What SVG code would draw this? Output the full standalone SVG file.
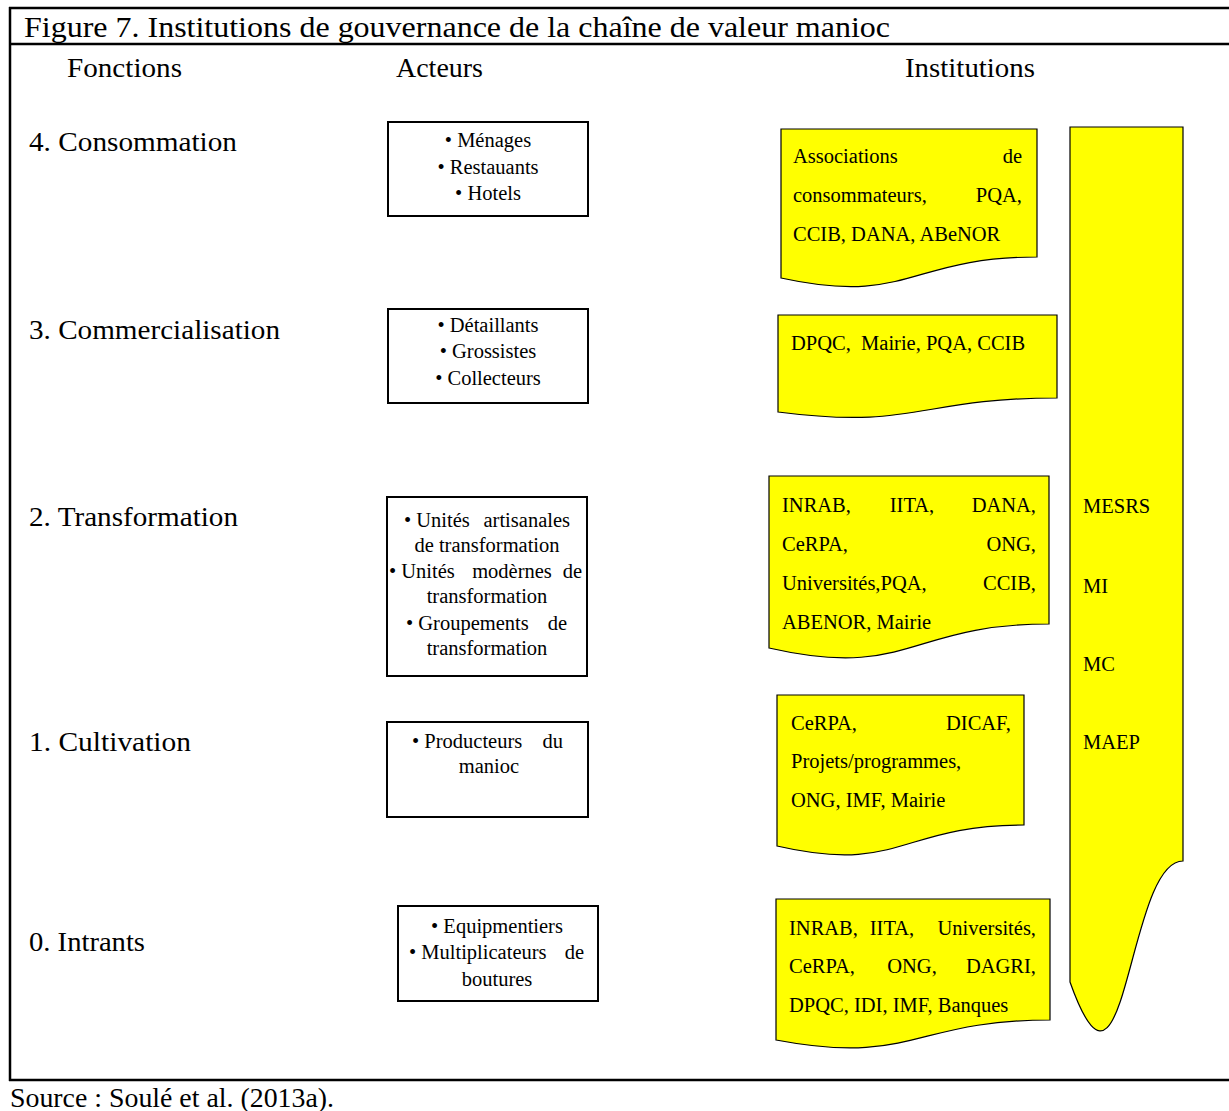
<svg xmlns="http://www.w3.org/2000/svg" width="1229" height="1111" viewBox="0 0 1229 1111">
<style>
.frame{stroke:#000;stroke-width:2.5;fill:none}
.hd{font-family:"Liberation Serif","Times New Roman",serif;font-size:28px;fill:#000}
.ti{font-family:"Liberation Serif","Times New Roman",serif;font-size:30px;fill:#000}
.fn{font-family:"Liberation Serif","Times New Roman",serif;font-size:27px;fill:#000}
.act{fill:#fff;stroke:#000;stroke-width:2}
.at{font-family:"Liberation Serif","Times New Roman",serif;font-size:20.5px;fill:#000}
.doc{fill:#ffff00;stroke:#000;stroke-width:1.2}
.it{font-family:"Liberation Serif","Times New Roman",serif;font-size:20.5px;fill:#000}
</style>
<rect width="1229" height="1111" fill="#fff"/>
<g id="frame">
<line class="frame" x1="9" y1="8" x2="1229" y2="8"/>
<line class="frame" x1="9" y1="44" x2="1229" y2="44"/>
<line class="frame" x1="10" y1="7" x2="10" y2="1081"/>
<line class="frame" x1="9" y1="1080" x2="1229" y2="1080"/>
</g>
<text class="ti" x="24" y="37" textLength="866" lengthAdjust="spacingAndGlyphs">Figure 7. Institutions de gouvernance de la chaîne de valeur manioc</text>
<g id="headers">
<text class="hd" x="67" y="77" textLength="115" lengthAdjust="spacingAndGlyphs">Fonctions</text>
<text class="hd" x="396" y="77" textLength="87" lengthAdjust="spacingAndGlyphs">Acteurs</text>
<text class="hd" x="905" y="77" textLength="130" lengthAdjust="spacingAndGlyphs">Institutions</text>
</g>
<g id="fonctions">
<text class="fn" x="29" y="151" textLength="208" lengthAdjust="spacingAndGlyphs">4. Consommation</text>
<text class="fn" x="29" y="339" textLength="251" lengthAdjust="spacingAndGlyphs">3. Commercialisation</text>
<text class="fn" x="29" y="526" textLength="209" lengthAdjust="spacingAndGlyphs">2. Transformation</text>
<text class="fn" x="29" y="751" textLength="162" lengthAdjust="spacingAndGlyphs">1. Cultivation</text>
<text class="fn" x="29" y="951" textLength="116" lengthAdjust="spacingAndGlyphs">0. Intrants</text>
</g>
<g id="acteur-4">
<rect class="act" x="388" y="122" width="200" height="94"/>
<text class="at" text-anchor="middle"><tspan x="488" y="147">• Ménages</tspan><tspan x="488" y="174">• Restauants</tspan><tspan x="488" y="200">• Hotels</tspan></text>
</g>
<g id="acteur-3">
<rect class="act" x="388" y="309" width="200" height="94"/>
<text class="at" text-anchor="middle"><tspan x="488" y="332">• Détaillants</tspan><tspan x="488" y="358">• Grossistes</tspan><tspan x="488" y="385">• Collecteurs</tspan></text>
</g>
<g id="acteur-2">
<rect class="act" x="387" y="497" width="200" height="179"/>
<text class="at"><tspan x="404" y="527">• Unités</tspan><tspan x="570" y="527" text-anchor="end">artisanales</tspan></text>
<text class="at" x="487" y="552" text-anchor="middle">de transformation</text>
<text class="at"><tspan x="389" y="578">• Unités</tspan><tspan x="512" y="578" text-anchor="middle">modèrnes</tspan><tspan x="582" y="578" text-anchor="end">de</tspan></text>
<text class="at" x="487" y="603" text-anchor="middle">transformation</text>
<text class="at"><tspan x="406" y="630">• Groupements</tspan><tspan x="567" y="630" text-anchor="end">de</tspan></text>
<text class="at" x="487" y="655" text-anchor="middle">transformation</text>
</g>
<g id="acteur-1">
<rect class="act" x="387" y="722" width="201" height="95"/>
<text class="at"><tspan x="412" y="748">• Producteurs</tspan><tspan x="563" y="748" text-anchor="end">du</tspan></text>
<text class="at" x="489" y="773" text-anchor="middle">manioc</text>
</g>
<g id="acteur-0">
<rect class="act" x="398" y="906" width="200" height="95"/>
<text class="at" x="497" y="933" text-anchor="middle">• Equipmentiers</text>
<text class="at"><tspan x="409" y="959">• Multiplicateurs</tspan><tspan x="584" y="959" text-anchor="end">de</tspan></text>
<text class="at" x="497" y="986" text-anchor="middle">boutures</text>
</g>
<g id="inst-4">
<path class="doc" d="M781,129 H1037 V257 C909,257 909,306 781,278 Z"/>
<text class="it"><tspan x="793" y="163">Associations</tspan><tspan x="1022" y="163" text-anchor="end">de</tspan></text>
<text class="it"><tspan x="793" y="202">consommateurs,</tspan><tspan x="1022" y="202" text-anchor="end">PQA,</tspan></text>
<text class="it" x="793" y="241">CCIB, DANA, ABeNOR</text>
</g>
<g id="inst-3">
<path class="doc" d="M778,315 H1057 V398 C917.5,398 917.5,430 778,412 Z"/>
<text class="it" x="791" y="350" xml:space="preserve">DPQC,  Mairie, PQA, CCIB</text>
</g>
<g id="inst-2">
<path class="doc" d="M769,476 H1049 V624 C909,624 909,680 769,648 Z"/>
<text class="it"><tspan x="782" y="512">INRAB,</tspan><tspan x="912" y="512" text-anchor="middle">IITA,</tspan><tspan x="1036" y="512" text-anchor="end">DANA,</tspan></text>
<text class="it"><tspan x="782" y="551">CeRPA,</tspan><tspan x="1036" y="551" text-anchor="end">ONG,</tspan></text>
<text class="it"><tspan x="782" y="590">Universités,PQA,</tspan><tspan x="1036" y="590" text-anchor="end">CCIB,</tspan></text>
<text class="it" x="782" y="629">ABENOR, Mairie</text>
</g>
<g id="inst-1">
<path class="doc" d="M777,695 H1024 V825 C900.5,825 900.5,874.5 777,846 Z"/>
<text class="it"><tspan x="791" y="730">CeRPA,</tspan><tspan x="1011" y="730" text-anchor="end">DICAF,</tspan></text>
<text class="it" x="791" y="768">Projets/programmes,</text>
<text class="it" x="791" y="807">ONG, IMF, Mairie</text>
</g>
<g id="inst-0">
<path class="doc" d="M776,899 H1050 V1020 C913,1020 913,1066 776,1040 Z"/>
<text class="it"><tspan x="789" y="935">INRAB,</tspan><tspan x="892" y="935" text-anchor="middle">IITA,</tspan><tspan x="1036" y="935" text-anchor="end">Universités,</tspan></text>
<text class="it"><tspan x="789" y="973">CeRPA,</tspan><tspan x="912" y="973" text-anchor="middle">ONG,</tspan><tspan x="1036" y="973" text-anchor="end">DAGRI,</tspan></text>
<text class="it" x="789" y="1012">DPQC, IDI, IMF, Banques</text>
</g>
<g id="ministeres">
<path class="doc" d="M1070,127 H1183 V861 C1126.5,861 1126.5,1141 1070,982 Z"/>
<text class="it"><tspan x="1083" y="513">MESRS</tspan><tspan x="1083" y="593">MI</tspan><tspan x="1083" y="671">MC</tspan><tspan x="1083" y="749">MAEP</tspan></text>
</g>
<g id="connectors"></g>
<text class="hd" x="10" y="1107" textLength="324" lengthAdjust="spacingAndGlyphs">Source : Soulé et al. (2013a).</text>
</svg>
